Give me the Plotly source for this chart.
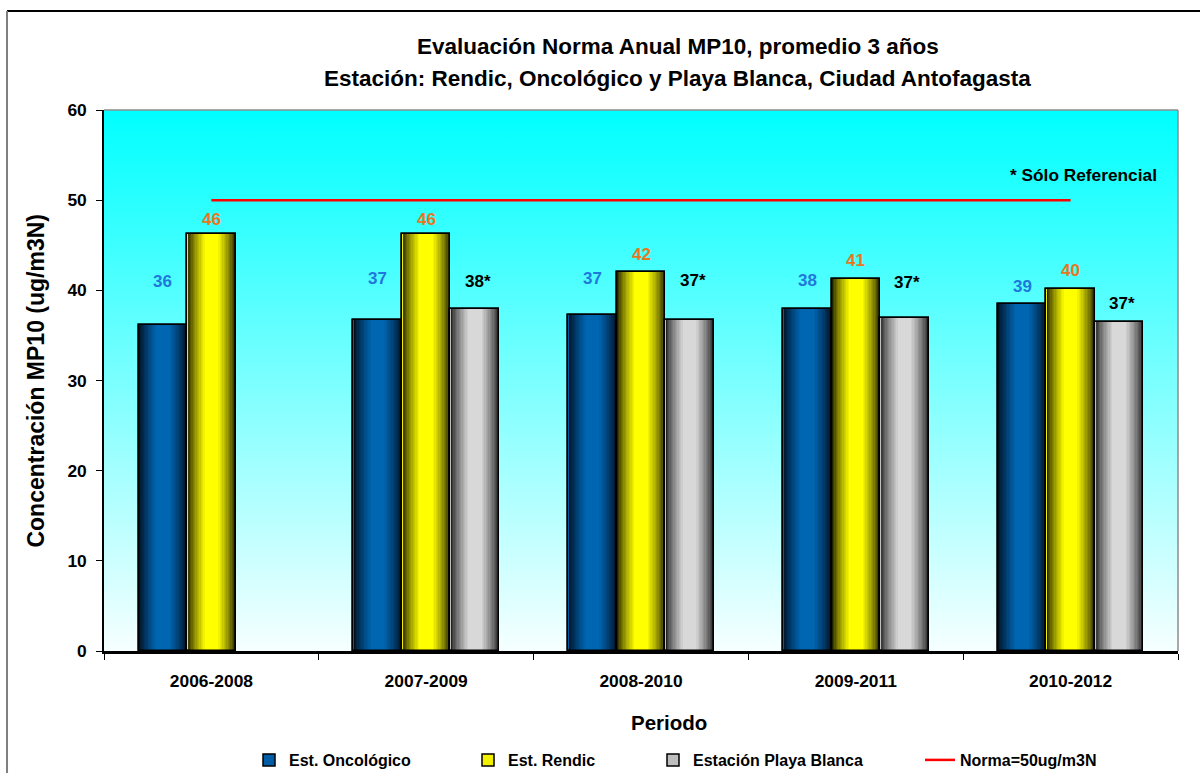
import base64
import math
import plotly.graph_objects as go

# ---- data -----------------------------------------------------------------
periods = ["2006-2008", "2007-2009", "2008-2010", "2009-2011", "2010-2012"]
oncologico = [36.2, 36.7, 37.3, 37.9, 38.5]
rendic = [46.2, 46.2, 42.0, 41.3, 40.2]
playa_blanca = [None, 37.9, 36.7, 36.9, 36.5]
norma = [50, 50, 50, 50, 50]

# heights (in axis units) at which each value label sits
onco_label_y = [41.0, 41.3, 41.3, 41.1, 40.4]
rendic_label_y = [47.9, 47.9, 44.0, 43.3, 42.2]
playa_label_y = [None, 41.0, 41.1, 40.9, 38.5]

# ---- styling ----------------------------------------------------------------
FONT = "Arial, Liberation Sans, sans-serif"
BAR_W = 0.226          # width of one bar in category units
N_LAYERS = 14          # shading steps used for the cylinder look


def fmt(v):
    return str(int(math.floor(v + 0.5)))


def mix(c1, c2, t):
    return "rgb({},{},{})".format(*[round(a + (b - a) * t) for a, b in zip(c1, c2)])


series = [
    dict(name="Est. Oncológico", y=oncologico, lab_y=onco_label_y, suffix="",
         edge=(0, 14, 30), mid=(0, 102, 178), legend_col="rgb(0,92,165)",
         label_col="#1F78DA", legend="legend"),
    dict(name="Est. Rendic", y=rendic, lab_y=rendic_label_y, suffix="",
         edge=(30, 30, 0), mid=(255, 255, 0), legend_col="rgb(240,240,0)",
         label_col="#E8761E", legend="legend2"),
    dict(name="Estación Playa Blanca", y=playa_blanca, lab_y=playa_label_y, suffix="*",
         edge=(35, 35, 35), mid=(216, 216, 216), legend_col="rgb(190,190,190)",
         label_col="#000000", legend="legend3"),
]

fig = go.Figure()
annotations = []

for s_idx, s in enumerate(series):
    center = (s_idx - 1) * BAR_W
    # base bar: carries the legend entry and the outline
    fig.add_trace(go.Bar(
        x=periods, y=s["y"], name=s["name"], legend=s["legend"],
        width=BAR_W, offset=center - BAR_W / 2,
        marker=dict(color=s["legend_col"], line=dict(color="black", width=1.5)),
        hoverinfo="skip",
    ))
    # shading layers, from dark edges to the bright core
    for k in range(N_LAYERS):
        frac = 1.0 - k * (0.72 / (N_LAYERS - 1))
        t = (k / (N_LAYERS - 1)) ** 0.75
        w = BAR_W * frac - (0.006 if k == 0 else 0)
        fig.add_trace(go.Bar(
            x=periods, y=s["y"], showlegend=False, legend=s["legend"],
            width=w, offset=center - w / 2,
            marker=dict(color=mix(s["edge"], s["mid"], t), line=dict(width=0)),
            hoverinfo="skip",
        ))
    # crisp outline on top of the shading
    fig.add_trace(go.Bar(
        x=periods, y=s["y"], showlegend=False, legend=s["legend"],
        width=BAR_W, offset=center - BAR_W / 2,
        marker=dict(color="rgba(0,0,0,0)", line=dict(color="black", width=1.5)),
        hoverinfo="skip",
    ))
    # value labels
    for i, (v, ly) in enumerate(zip(s["y"], s["lab_y"])):
        if v is None:
            continue
        annotations.append(dict(
            x=i + center, y=ly, xref="x", yref="y", showarrow=False,
            xanchor="center", yanchor="middle",
            text=fmt(v) + s["suffix"], xshift=3 if s["suffix"] else 0,
            font=dict(family=FONT, size=17, color=s["label_col"], weight="bold"),
        ))

fig.add_trace(go.Scatter(
    x=periods, y=norma, mode="lines", name="Norma=50ug/m3N", legend="legend4",
    line=dict(color="#FF0000", width=2.5), hoverinfo="skip",
))

# ---- background gradient of the plot area --------------------------------------
svg = (
    '<svg xmlns="http://www.w3.org/2000/svg" width="10" height="100" '
    'viewBox="0 0 10 100" preserveAspectRatio="none">'
    '<defs><linearGradient id="g" x1="0" y1="0" x2="0" y2="1">'
    '<stop offset="0" stop-color="#00FFFF"/>'
    '<stop offset="1" stop-color="#F6FFFF"/>'
    '</linearGradient></defs>'
    '<rect width="10" height="100" fill="url(#g)"/></svg>'
)
bg_uri = "data:image/svg+xml;base64," + base64.b64encode(svg.encode()).decode()

# ---- text ---------------------------------------------------------------------
annotations += [
    dict(text="Evaluación Norma Anual MP10, promedio 3 años",
         xref="paper", yref="paper", x=0.534, y=1.118, showarrow=False,
         xanchor="center", yanchor="middle",
         font=dict(family=FONT, size=22.5, color="black", weight="bold")),
    dict(text="Estación: Rendic, Oncológico y Playa Blanca, Ciudad Antofagasta",
         xref="paper", yref="paper", x=0.534, y=1.059, showarrow=False,
         xanchor="center", yanchor="middle",
         font=dict(family=FONT, size=22.5, color="black", weight="bold")),
    dict(text="Concentración MP10 (ug/m3N)", textangle=-90,
         xref="paper", yref="paper", x=-0.0642, y=0.5, showarrow=False,
         xanchor="center", yanchor="middle",
         font=dict(family=FONT, size=23, color="black", weight="bold")),
    dict(text="Periodo", xref="paper", yref="paper", x=0.526, y=-0.1316,
         showarrow=False, xanchor="center", yanchor="middle",
         font=dict(family=FONT, size=20.5, color="black", weight="bold")),
    dict(text="* Sólo Referencial", xref="paper", yref="paper", x=0.982, y=0.88,
         xanchor="right", yanchor="middle", showarrow=False,
         font=dict(family=FONT, size=17.3, color="black", weight="bold")),
]

legend_font = dict(family=FONT, size=16, color="black", weight="bold")


def legend_at(px):
    return dict(orientation="h", xref="container", yref="container",
                x=px / 1200, y=13 / 773, xanchor="left", yanchor="middle",
                bgcolor="rgba(0,0,0,0)", font=legend_font)


fig.update_layout(
    width=1200, height=773,
    margin=dict(l=104, r=22, t=110, b=122),
    paper_bgcolor="white",
    plot_bgcolor="rgba(0,0,0,0)",
    barmode="overlay",
    bargap=0,
    font=dict(family=FONT, color="black"),
    showlegend=True,
    legend=legend_at(249),
    legend2=legend_at(468),
    legend3=legend_at(653),
    legend4=legend_at(920),
    annotations=annotations,
    images=[dict(source=bg_uri, xref="paper", yref="paper", x=0, y=1,
                 sizex=1, sizey=1, sizing="stretch", layer="below",
                 xanchor="left", yanchor="top")],
    shapes=[
        # plot-area frame (top and right edges)
        dict(type="line", xref="paper", yref="paper", x0=0, x1=1, y0=1, y1=1,
             line=dict(color="#8C8C8C", width=1.5)),
        dict(type="line", xref="paper", yref="paper", x0=1, x1=1, y0=0, y1=1,
             line=dict(color="#8C8C8C", width=1.5)),
        # chart border
        dict(type="line", xref="paper", yref="paper", x0=-0.0903, x1=1.05,
             y0=1.183, y1=1.183, line=dict(color="black", width=2)),
        dict(type="line", xref="paper", yref="paper", x0=-0.0903, x1=-0.0903,
             y0=1.183, y1=-0.3, line=dict(color="#7F7F7F", width=2)),
    ],
)

fig.update_xaxes(
    type="category", categoryorder="array", categoryarray=periods,
    showgrid=False, zeroline=False,
    showline=True, linecolor="black", linewidth=2.5,
    ticks="outside", tickson="boundaries", ticklen=6, tickcolor="black", tickwidth=1,
    ticklabelstandoff=12,
    tickfont=dict(family=FONT, size=17.4, color="black", weight="bold"),
)
fig.update_yaxes(
    range=[0, 60], dtick=10, showgrid=False, zeroline=False,
    showline=True, linecolor="black", linewidth=1.5,
    ticks="outside", ticklen=6, tickcolor="black", tickwidth=1,
    ticklabelstandoff=6,
    tickfont=dict(family=FONT, size=17.4, color="black", weight="bold"),
)

fig.write_html("out.html")
